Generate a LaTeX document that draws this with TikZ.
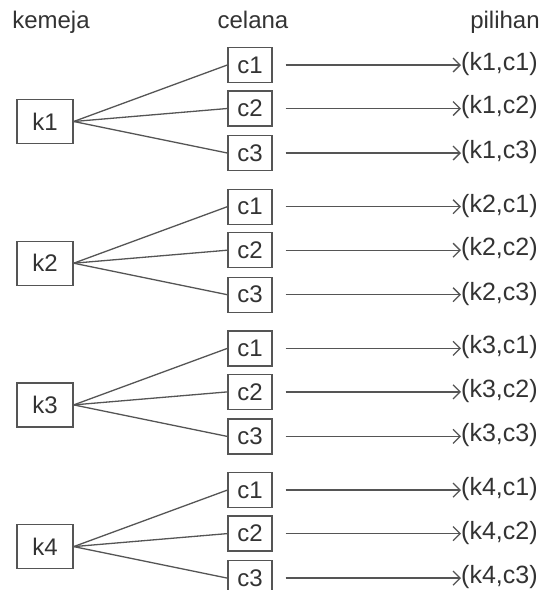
\documentclass[tikz,border=0pt]{standalone}
\usepackage{fontspec}
\setmainfont{Liberation Sans}
\usetikzlibrary{arrows.meta}
\definecolor{ink}{HTML}{333333}
\definecolor{wire}{HTML}{555555}
\begin{document}
\begin{tikzpicture}[x=1pt,y=-1pt,
  every node/.style={text=ink,font=\fontsize{24}{28}\selectfont},
  kbox/.style={draw=wire,line width=1.4pt,minimum width=56pt,minimum height=44pt,inner sep=0pt},
  cbox/.style={draw=wire,line width=1.4pt,minimum width=44pt,minimum height=35pt,inner sep=0pt},
  fan/.style={draw=wire,line width=1.3pt},
  pick/.style={draw=wire,line width=1.3pt,shorten <=13pt,-{Straight Barb[length=7pt,width=14pt]}},
  result/.style={anchor=west,inner sep=0pt,font=\fontsize{25}{29}\selectfont},
  head/.style={anchor=base}]
\useasboundingbox (0,0) rectangle (543,590);
\clip (0,0) rectangle (543,590);
\fill[white] (0,0) rectangle (543,590);
% column headings
\node[head] (hk) at (51,28) {kemeja};
\node[head] (hc) at (253,28) {celana};
\node[head] (hp) at (505,28) {pilihan};
% one block per shirt: shirt -> trousers -> pair
\foreach \g in {1,...,4} {
  \pgfmathsetmacro\dy{(\g-1)*141.7}
  \node[kbox] (k\g) at (45,121.5+\dy) {k\g};
  \foreach \c/\yy in {1/65,2/108.5,3/153} {
    \node[cbox] (c\g\c) at (250,\yy+\dy) {c\c};
    \node[result] (p\g\c) at (461,\yy-1+\dy) {(k\g,c\c)};
    \draw[fan] (k\g.east) -- (c\g\c.west);
    \draw[pick] (c\g\c.east) -- (p\g\c.west |- c\g\c.east);
  }
}
\end{tikzpicture}
\end{document}
